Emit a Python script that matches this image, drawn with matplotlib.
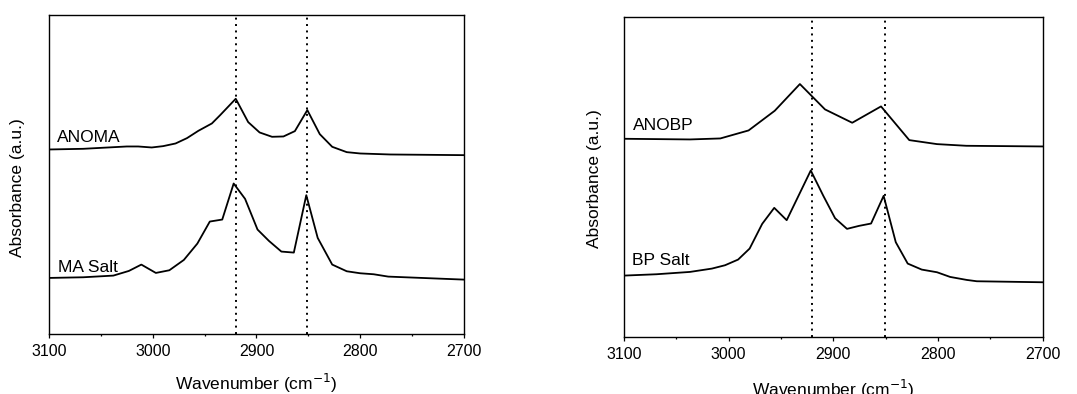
import matplotlib
matplotlib.use("Agg")
import matplotlib.pyplot as plt
from matplotlib.ticker import MultipleLocator

plt.rcParams['font.family'] = ['Liberation Sans', 'DejaVu Sans']

# ---- data (arbitrary absorbance units) ----
anoma_wn = [3100, 3067, 3025, 3014, 3001, 2990, 2978, 2967, 2956, 2943, 2935, 2920,
            2908, 2897, 2885, 2874, 2863, 2851, 2839, 2827, 2813, 2800, 2771, 2700]
anoma_abs = [55.3, 55.5, 56.2, 56.2, 55.9, 56.3, 57.1, 58.7, 60.9, 63.1, 65.6, 70.5,
             63.5, 60.4, 59.1, 59.2, 60.8, 67.1, 59.9, 56.1, 54.5, 54.1, 53.8, 53.6]

masalt_wn = [3100, 3067, 3038, 3023, 3011, 2997, 2984, 2970, 2957, 2945, 2933, 2922,
             2911, 2899, 2888, 2876, 2864, 2852, 2841, 2827, 2813, 2800, 2787, 2773, 2700]
masalt_abs = [16.8, 17.0, 17.5, 18.9, 20.8, 18.3, 19.1, 22.2, 27.1, 33.7, 34.3, 45.1,
              40.5, 31.3, 27.9, 24.7, 24.4, 41.6, 28.8, 20.8, 18.8, 18.2, 17.9, 17.2, 16.3]

anobp_wn = [3100, 3037, 3008, 2981, 2956, 2932, 2908, 2882, 2854.5, 2827.5, 2801, 2773, 2700]
anobp_abs = [59.4, 59.2, 59.5, 61.9, 67.8, 75.8, 68.2, 64.2, 69.1, 59.0, 57.8, 57.3, 57.1]

bpsalt_wn = [3100, 3069, 3037, 3016, 3003.5, 2991, 2980, 2968, 2956.5, 2944.6, 2921.6,
             2909.6, 2898.4, 2887, 2875.5, 2864, 2852, 2840.4, 2829, 2815.6, 2801,
             2788.5, 2772.6, 2763, 2700]
bpsalt_abs = [18.4, 18.8, 19.5, 20.5, 21.5, 23.2, 26.5, 33.9, 38.7, 35.0, 49.9,
              42.3, 35.6, 32.4, 33.3, 34.0, 42.3, 28.4, 22.0, 20.2, 19.4,
              18.0, 17.1, 16.7, 16.4]

ref_lines = [2920, 2851]
x_range = (3100, 2700)
xticks = [3100, 3000, 2900, 2800, 2700]
xlabel = "Wavenumber (cm$^{-1}$)"
ylabel = "Absorbance (a.u.)"

fig = plt.figure(figsize=(10.77, 3.94), dpi=100)
ax1 = fig.add_axes([0.0455, 0.1523, 0.3853, 0.8096])
ax2 = fig.add_axes([0.5794, 0.1447, 0.3888, 0.8122])

panels = [
    (ax1, anoma_wn, anoma_abs, "ANOMA", masalt_wn, masalt_abs, "MA Salt",
     (0, 95.6), (3092, 57.6), (3091, 18.6), (-0.058, 0.46), -0.118),
    (ax2, anobp_wn, anobp_abs, "ANOBP", bpsalt_wn, bpsalt_abs, "BP Salt",
     (0, 95.9), (3091, 61.9), (3092, 21.6), (-0.053, 0.494), -0.128),
]

for (ax, w1, a1, l1, w2, a2, l2, ylim, p1, p2, ylc, xly) in panels:
    ax.plot(w1, a1, color='black', lw=1.3)
    ax.plot(w2, a2, color='black', lw=1.3)
    for xv in ref_lines:
        ax.axvline(xv, color='black', lw=1.4, linestyle=(0, (1, 2.3)))
    ax.set_xlim(*x_range)
    ax.set_ylim(*ylim)
    ax.set_xticks(xticks)
    ax.xaxis.set_minor_locator(MultipleLocator(50))
    ax.set_yticks([])
    ax.tick_params(axis='x', which='major', direction='out', length=3, width=0.9,
                   labelsize=11.5, pad=4)
    ax.tick_params(axis='x', which='minor', direction='out', length=1.5, width=0.9)
    for s in ax.spines.values():
        s.set_linewidth(1.0)
        s.set_color('black')
    ax.text(p1[0], p1[1], l1, fontsize=12.5, va='baseline', ha='left')
    ax.text(p2[0], p2[1], l2, fontsize=12.5, va='baseline', ha='left')
    ax.set_xlabel(xlabel, fontsize=12.5)
    ax.set_ylabel(ylabel, fontsize=12.5)
    ax.xaxis.set_label_coords(0.5, xly)
    ax.yaxis.set_label_coords(*ylc)

fig.savefig("out.png", dpi=100)
